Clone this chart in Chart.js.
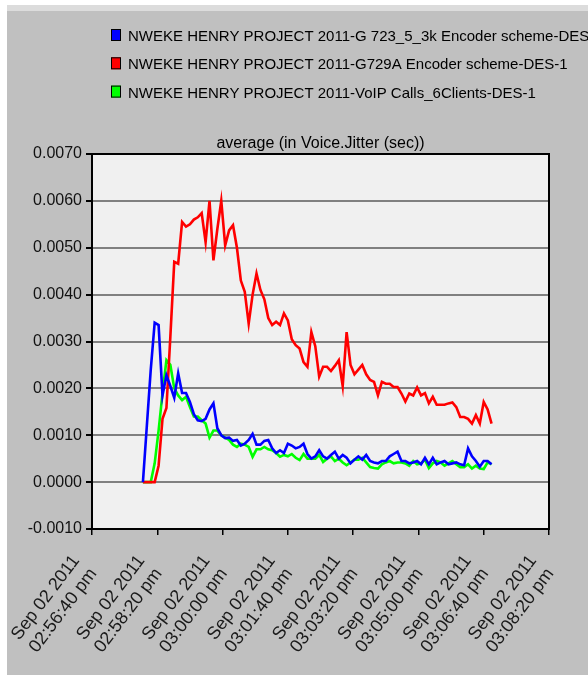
<!DOCTYPE html>
<html>
<head>
<meta charset="utf-8">
<script src="https://cdn.jsdelivr.net/npm/chart.js@4.4.1/dist/chart.umd.min.js"></script>
<style>
    html, body { margin: 0; padding: 0; background: #ffffff; }
    #wrap { position: relative; width: 588px; height: 675px; }
</style>
</head>
<body>
<div id="wrap"><canvas id="jitterChart" width="588" height="675"></canvas></div>
<script>
    // seconds after Sep 02 2011 02:56:40 pm, one sample every 6 s
    var sampleTimes = [
        78, 84, 90, 96, 102, 108, 114, 120, 126, 132,
        138, 144, 150, 156, 162, 168, 174, 180, 186, 192,
        198, 204, 210, 216, 222, 228, 234, 240, 246, 252,
        258, 264, 270, 276, 282, 288, 294, 300, 306, 312,
        318, 324, 330, 336, 342, 348, 354, 360, 366, 372,
        378, 384, 390, 396, 402, 408, 414, 420, 426, 432,
        438, 444, 450, 456, 462, 468, 474, 480, 486, 492,
        498, 504, 510, 516, 522, 528, 534, 540, 546, 552,
        558, 564, 570, 576, 582, 588, 594, 600, 606, 612
    ];

    var seriesLabels = [
        'NWEKE HENRY PROJECT 2011-G 723_5_3k Encoder scheme-DES-1',
        'NWEKE HENRY PROJECT 2011-G729A Encoder scheme-DES-1',
        'NWEKE HENRY PROJECT 2011-VoIP Calls_6Clients-DES-1'
    ];
    var seriesColors = ['#0000ff', '#ff0000', '#00ff00'];

    var g723Jitter = [
        0.0000, 0.0012, 0.0024, 0.0034, 0.00335, 0.00185, 0.00228, 0.00205, 0.0018, 0.00232,
        0.0019, 0.0019, 0.00171, 0.00145, 0.00132, 0.0013, 0.00135, 0.00155, 0.00168, 0.00115,
        0.0010, 0.00094, 0.00095, 0.00088, 0.0009, 0.00078, 0.00082, 0.0009, 0.00103, 0.0008,
        0.0008, 0.00088, 0.0009, 0.00072, 0.00062, 0.00068, 0.00062, 0.00082, 0.00078, 0.00072,
        0.00075, 0.00082, 0.0006, 0.0005, 0.00055, 0.00068, 0.00055, 0.0005, 0.00058, 0.00065,
        0.0005, 0.00058, 0.00052, 0.0004, 0.00048, 0.00055, 0.00048, 0.00058, 0.00045, 0.00042,
        0.0004, 0.00045, 0.00045, 0.00055, 0.0006, 0.00065, 0.00045, 0.00045, 0.0004, 0.00042,
        0.00045, 0.00038, 0.00052, 0.00038, 0.00052, 0.00038, 0.00042, 0.00045, 0.00038, 0.0004,
        0.00042, 0.00038, 0.00036, 0.00072, 0.00055, 0.00045, 0.00033, 0.00045, 0.00045, 0.00038
    ];

    var g729aJitter = [
        0.0000, 0.0000, 0.0000, 0.0000, 0.00035, 0.00135, 0.00158, 0.0031, 0.0047, 0.00466,
        0.00555, 0.00545, 0.0055, 0.0056, 0.00565, 0.00574, 0.00512, 0.0060, 0.00473, 0.0054,
        0.0060, 0.00505, 0.00537, 0.00548, 0.0050, 0.0043, 0.00406, 0.00338, 0.0040, 0.00445,
        0.0041, 0.0039, 0.0035, 0.00335, 0.00342, 0.00335, 0.0036, 0.00345, 0.00305, 0.00292,
        0.00285, 0.00256, 0.00246, 0.0032, 0.0029, 0.00225, 0.00246, 0.00246, 0.00237, 0.00248,
        0.0026, 0.00205, 0.0032, 0.0025, 0.0023, 0.0024, 0.0025, 0.0023, 0.00218, 0.00214,
        0.00185, 0.00214, 0.0021, 0.0021, 0.00203, 0.00203, 0.00189, 0.00172, 0.00189, 0.00185,
        0.00202, 0.00185, 0.0019, 0.00168, 0.00182, 0.00165, 0.00165, 0.00165, 0.00168, 0.0017,
        0.0016, 0.00139, 0.00139, 0.00135, 0.00125, 0.00143, 0.00125, 0.00171, 0.00155, 0.00125
    ];

    var voipJitter = [
        0.0000, 0.0000, 0.0000, 0.0004, 0.0011, 0.0019, 0.0026, 0.0025, 0.0020, 0.00185,
        0.00175, 0.00182, 0.0016, 0.0014, 0.0014, 0.00132, 0.00125, 0.00095, 0.0011, 0.0011,
        0.0010, 0.00095, 0.0009, 0.0008, 0.00075, 0.00082, 0.0008, 0.00075, 0.00054, 0.0007,
        0.0007, 0.00075, 0.0007, 0.00068, 0.00062, 0.00054, 0.00058, 0.00055, 0.0006, 0.00052,
        0.00047, 0.0006, 0.0005, 0.0005, 0.0005, 0.00058, 0.00043, 0.0005, 0.00055, 0.00045,
        0.0005, 0.00042, 0.00036, 0.00042, 0.00048, 0.00048, 0.00052, 0.00042, 0.00032, 0.0003,
        0.00029, 0.00038, 0.00042, 0.00045, 0.0004, 0.00042, 0.00042, 0.0004, 0.00035, 0.00045,
        0.00038, 0.0004, 0.00048, 0.0003, 0.0004, 0.00045, 0.00042, 0.00035, 0.0004, 0.00045,
        0.00038, 0.00032, 0.00032, 0.00038, 0.00029, 0.00035, 0.00029, 0.00028, 0.00042, 0.00038
    ];

    var xMin = 0, xMax = 700, xStep = 100;
    var yMin = -0.001, yMax = 0.007, yStep = 0.001;
    var chartTitle = 'average (in Voice.Jitter (sec))';
    var startClock = { h: 14, m: 56, s: 40 };
    var dateLabel = 'Sep 02 2011';

    var FONT = "'Liberation Sans', Arial, sans-serif";

    function pad2(n) {
        return (n < 10 ? '0' : '') + n;
    }

    function timeLabel(sec) {
        var total = startClock.h * 3600 + startClock.m * 60 + startClock.s + Math.round(sec);
        var h = Math.floor(total / 3600) % 24;
        var m = Math.floor(total / 60) % 60;
        var s = total % 60;
        var suffix = h >= 12 ? 'pm' : 'am';
        var h12 = h % 12 === 0 ? 12 : h % 12;
        return [dateLabel, pad2(h12) + ':' + pad2(m) + ':' + pad2(s) + ' ' + suffix];
    }

    function toPoints(values) {
        return values.map(function (v, i) {
            return { x: sampleTimes[i], y: v };
        });
    }

    var frame = {
        id: 'frame',
        beforeDraw: function (chart) {
            var ctx = chart.ctx;
            var area = chart.chartArea;
            ctx.save();
            ctx.fillStyle = '#ffffff';
            ctx.fillRect(0, 0, chart.width, chart.height);
            ctx.fillStyle = '#dcdcdc';
            ctx.fillRect(7, 5, chart.width - 7, 6);
            ctx.fillStyle = '#c0c0c0';
            ctx.fillRect(7, 11, chart.width - 7, chart.height - 11);
            ctx.fillStyle = '#f0f0f0';
            ctx.fillRect(area.left, area.top, area.right - area.left, area.bottom - area.top);
            ctx.restore();
        },
        afterDatasetsDraw: function (chart) {
            var ctx = chart.ctx;
            var area = chart.chartArea;
            ctx.save();
            ctx.strokeStyle = '#000000';
            ctx.lineWidth = 2;
            ctx.strokeRect(area.left, area.top, area.right - area.left, area.bottom - area.top);

            // legend, in dataset order
            ctx.font = '15px ' + FONT;
            ctx.textBaseline = 'alphabetic';
            ctx.textAlign = 'left';
            chart.data.datasets.forEach(function (ds, i) {
                var y = 29 + i * 28.3;
                ctx.fillStyle = ds.borderColor;
                ctx.fillRect(111, y, 10, 12);
                ctx.lineWidth = 1;
                ctx.strokeStyle = '#000000';
                ctx.strokeRect(111.5, y + 0.5, 9, 11);
                ctx.fillStyle = '#000000';
                ctx.fillText(ds.label, 128, y + 12);
            });

            // title above the plot
            ctx.font = '16px ' + FONT;
            ctx.textAlign = 'center';
            ctx.fillText(chartTitle, (area.left + area.right) / 2, 148);
            ctx.restore();
        }
    };

    new Chart(document.getElementById('jitterChart'), {
        type: 'line',
        data: {
            datasets: [
                { label: seriesLabels[0], data: toPoints(g723Jitter), borderColor: seriesColors[0] },
                { label: seriesLabels[1], data: toPoints(g729aJitter), borderColor: seriesColors[1] },
                { label: seriesLabels[2], data: toPoints(voipJitter), borderColor: seriesColors[2] }
            ].map(function (ds) {
                ds.borderWidth = 2.6;
                ds.pointRadius = 0;
                ds.tension = 0;
                ds.fill = false;
                return ds;
            })
        },
        options: {
            responsive: false,
            animation: false,
            layout: {
                padding: { top: 154, right: 39, bottom: 0, left: 0 }
            },
            plugins: {
                legend: { display: false },
                title: { display: false },
                tooltip: { enabled: false }
            },
            scales: {
                x: {
                    type: 'linear',
                    min: xMin,
                    max: xMax,
                    afterFit: function (scale) {
                        scale.height = 146;
                        scale.paddingLeft = 0;
                        scale.paddingRight = 0;
                    },
                    border: { display: false },
                    grid: {
                        drawOnChartArea: false,
                        drawTicks: true,
                        tickLength: 6,
                        tickColor: '#000000',
                        lineWidth: 1.5
                    },
                    ticks: {
                        stepSize: xStep,
                        autoSkip: false,
                        minRotation: 53,
                        maxRotation: 53,
                        padding: 16,
                        labelOffset: -16,
                        color: '#1a1a1a',
                        font: { family: FONT, size: 18 },
                        callback: function (value) {
                            return timeLabel(value);
                        }
                    }
                },
                y: {
                    min: yMin,
                    max: yMax,
                    afterFit: function (scale) {
                        scale.width = 92;
                    },
                    border: { display: false },
                    grid: {
                        color: function (c) {
                            return (c.tick && (c.tick.value <= yMin + 1e-9 || c.tick.value >= yMax - 1e-9)) ? 'rgba(0,0,0,0)' : '#808080';
                        },
                        lineWidth: 2,
                        tickLength: 6,
                        tickColor: '#000000'
                    },
                    ticks: {
                        stepSize: yStep,
                        padding: 4,
                        color: '#111111',
                        font: { family: FONT, size: 16 },
                        callback: function (value) {
                            return Number(value).toFixed(4);
                        }
                    }
                }
            }
        },
        plugins: [frame]
    });
</script>
</body>
</html>
